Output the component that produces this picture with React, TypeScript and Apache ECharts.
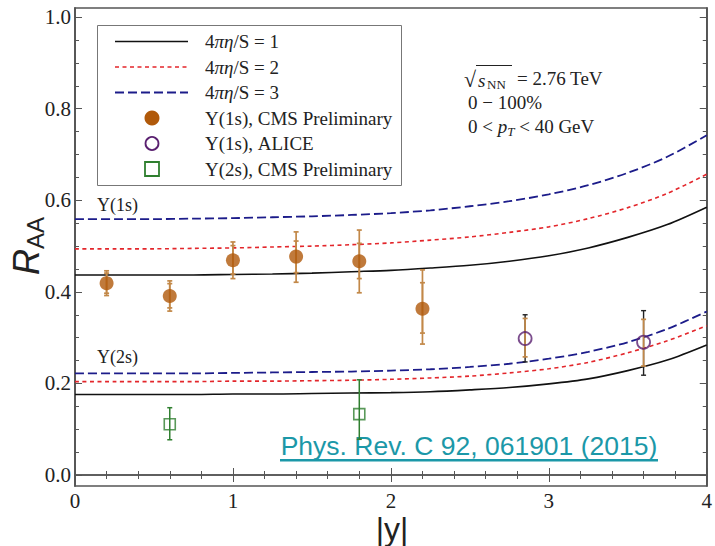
import React, { useEffect, useRef } from "react";
import * as echarts from "echarts";

// ---------- data ----------
const rapidity = [0, 0.25, 0.5, 0.75, 1, 1.25, 1.5, 1.75, 2, 2.25, 2.5, 2.75, 3, 3.25, 3.5, 3.75, 4];

// Υ(1s) theory curves
const u1sEta1 = [0.437, 0.437, 0.437, 0.437, 0.438, 0.439, 0.441, 0.444, 0.447, 0.452, 0.458, 0.467, 0.479, 0.496, 0.519, 0.547, 0.585];
const u1sEta2 = [0.494, 0.494, 0.494, 0.495, 0.496, 0.498, 0.5, 0.503, 0.507, 0.513, 0.52, 0.53, 0.542, 0.56, 0.584, 0.615, 0.657];
const u1sEta3 = [0.559, 0.559, 0.559, 0.56, 0.561, 0.563, 0.565, 0.568, 0.572, 0.578, 0.587, 0.598, 0.613, 0.633, 0.66, 0.695, 0.742];

// Υ(2s) theory curves
const u2sEta1 = [0.176, 0.176, 0.176, 0.176, 0.177, 0.177, 0.178, 0.179, 0.18, 0.182, 0.186, 0.191, 0.199, 0.21, 0.228, 0.251, 0.284];
const u2sEta2 = [0.204, 0.204, 0.204, 0.204, 0.205, 0.205, 0.206, 0.207, 0.209, 0.212, 0.216, 0.223, 0.232, 0.246, 0.267, 0.293, 0.326];
const u2sEta3 = [0.222, 0.222, 0.222, 0.222, 0.223, 0.224, 0.225, 0.226, 0.228, 0.231, 0.236, 0.243, 0.254, 0.269, 0.29, 0.319, 0.357];

// Υ(1s) CMS Preliminary
const cms1sY = [0.2, 0.6, 1.0, 1.4, 1.8, 2.2];
const cms1sRaa = [0.419, 0.391, 0.469, 0.477, 0.467, 0.363];
const cms1sStatLo = [0.397, 0.365, 0.439, 0.442, 0.429, 0.31];
const cms1sStatHi = [0.441, 0.418, 0.501, 0.511, 0.506, 0.42];
const cms1sTotLo = [0.392, 0.358, 0.429, 0.421, 0.398, 0.286];
const cms1sTotHi = [0.446, 0.424, 0.509, 0.531, 0.535, 0.448];

// Υ(1s) ALICE
const aliceY = [2.85, 3.6];
const aliceRaa = [0.298, 0.29];
const aliceStatLo = [0.258, 0.238];
const aliceStatHi = [0.342, 0.34];
const aliceTotLo = [0.247, 0.218];
const aliceTotHi = [0.35, 0.359];

// Υ(2s) CMS Preliminary
const cms2sY = [0.6, 1.8];
const cms2sRaa = [0.111, 0.133];
const cms2sLo = [0.077, 0.078];
const cms2sHi = [0.147, 0.208];

// axis ticks
const yTicks = [0, 0.2, 0.4, 0.6, 0.8, 1.0];
const yMinorTicks = [0.05, 0.1, 0.15, 0.25, 0.3, 0.35, 0.45, 0.5, 0.55, 0.65, 0.7, 0.75, 0.85, 0.9, 0.95];

const legendLabels = [
  "4πη/S = 1",
  "4πη/S = 2",
  "4πη/S = 3",
  "Υ(1s), CMS Preliminary",
  "Υ(1s), ALICE",
  "Υ(2s), CMS Preliminary",
];

// ---------- styles ----------
const SERIF = "'Liberation Serif', 'DejaVu Serif', serif";
const SANS = "'Liberation Sans', Arial, sans-serif";
const FRAME = "#555";
const C_BLACK = "#111111";
const C_RED = "#e3262b";
const C_BLUE = "#1c1c8a";
const C_ORANGE = "#b0590a";
const C_BAR = "#c28848";
const C_PURPLE = "#5a2070";
const C_GREEN = "#2f7f2f";
const C_TEAL = "#1b98a8";

const zip = (xs: number[], ys: number[]) => xs.map((x, i) => [x, ys[i]]);
const zip3 = (xs: number[], a: number[], b: number[]) => xs.map((x, i) => [x, a[i], b[i]]);

const errBar = (color: string, cap: number, width: number) => (params: any, api: any) => {
  const x = api.value(0);
  const lo = api.coord([x, api.value(1)]);
  const hi = api.coord([x, api.value(2)]);
  const style = { stroke: color, lineWidth: width };
  return {
    type: "group",
    children: [
      { type: "line", shape: { x1: lo[0], y1: lo[1], x2: hi[0], y2: hi[1] }, style },
      { type: "line", shape: { x1: lo[0] - cap, y1: lo[1], x2: lo[0] + cap, y2: lo[1] }, style },
      { type: "line", shape: { x1: hi[0] - cap, y1: hi[1], x2: hi[0] + cap, y2: hi[1] }, style },
    ],
  };
};

const theory = (name: string, data: number[], color: string, type: any, width: number) => ({
  name,
  type: "line",
  data: zip(rapidity, data),
  smooth: 0.3,
  symbol: "none",
  lineStyle: { color, type, width },
  z: 2,
  silent: true,
});

export default function App() {
  const ref = useRef<HTMLDivElement>(null);

  useEffect(() => {
    if (!ref.current) return;
    const chart = echarts.init(ref.current, undefined, { renderer: "svg" });

    const tickLine = { color: FRAME, width: 1 };
    const xAxisBase = {
      type: "value",
      min: 0,
      max: 4,
      interval: 1,
      axisLine: { show: true, lineStyle: { color: FRAME, width: 1.5 } },
      axisTick: { show: true, inside: true, length: 7, lineStyle: tickLine },
      minorTick: { show: true, splitNumber: 5, length: 4, lineStyle: tickLine },
      splitLine: { show: false },
      minorSplitLine: { show: false },
    };
    const yAxisBase = {
      type: "value",
      min: -0.024,
      max: 1.02,
      splitLine: { show: false },
      axisLine: { show: true, lineStyle: { color: FRAME, width: 1.5 } },
    };

    // legend rows
    const rowY = [41.5, 67, 92.5, 118, 143.5, 169];
    const lx1 = 115, lx2 = 188, mx = 152, tx = 205;
    const legendChildren: any[] = [
      { type: "rect", shape: { x: 97.5, y: 25.5, width: 304, height: 160 }, style: { fill: "#fff", stroke: "#777", lineWidth: 1 } },
      { type: "line", shape: { x1: lx1, y1: rowY[0], x2: lx2, y2: rowY[0] }, style: { stroke: C_BLACK, lineWidth: 1.6 } },
      { type: "line", shape: { x1: lx1, y1: rowY[1], x2: lx2, y2: rowY[1] }, style: { stroke: C_RED, lineWidth: 1.6, lineDash: [4, 3.5] } },
      { type: "line", shape: { x1: lx1, y1: rowY[2], x2: lx2, y2: rowY[2] }, style: { stroke: C_BLUE, lineWidth: 1.8, lineDash: [9, 4] } },
      { type: "circle", shape: { cx: mx, cy: rowY[3], r: 7.5 }, style: { fill: C_ORANGE } },
      { type: "circle", shape: { cx: mx, cy: rowY[4], r: 6.5 }, style: { fill: "none", stroke: C_PURPLE, lineWidth: 1.8 } },
      { type: "rect", shape: { x: mx - 7, y: rowY[5] - 7, width: 14, height: 14 }, style: { fill: "none", stroke: C_GREEN, lineWidth: 1.8 } },
    ];
    legendLabels.forEach((label, i) => {
      const txt = i < 3 ? label.replace("πη", "{i|πη}") : label;
      legendChildren.push({
        type: "text",
        x: tx,
        y: rowY[i],
        style: {
          text: txt,
          fontFamily: SERIF,
          fontSize: 19,
          fill: "#222",
          verticalAlign: "middle",
          align: "left",
          rich: { i: { fontStyle: "italic", fontFamily: SERIF, fontSize: 19, fill: "#222" } },
        },
      });
    });

    const option: any = {
      animation: false,
      backgroundColor: "#fff",
      grid: { left: 75, right: 6, top: 8, bottom: 60, show: true, borderColor: FRAME, borderWidth: 1.5, backgroundColor: "transparent" },
      xAxis: [
        {
          ...xAxisBase,
          position: "bottom",
          axisLabel: { fontFamily: SERIF, fontSize: 21, color: "#222", margin: 4 },
        },
        { ...xAxisBase, position: "top", axisLabel: { show: false } },
      ],
      yAxis: [
        {
          ...yAxisBase,
          position: "left",
          axisLabel: {
            customValues: yTicks,
            formatter: (v: number) => v.toFixed(1),
            fontFamily: SERIF,
            fontSize: 21,
            color: "#222",
            margin: 4,
          },
          axisTick: { show: true, inside: true, length: 7, customValues: yTicks, lineStyle: tickLine },
        },
        {
          ...yAxisBase,
          position: "left",
          axisLabel: { show: false },
          axisTick: { show: true, inside: true, length: 4, customValues: yMinorTicks, lineStyle: tickLine },
        },
        {
          ...yAxisBase,
          position: "right",
          axisLabel: { show: false },
          axisTick: { show: true, inside: true, length: 7, customValues: yTicks, lineStyle: tickLine },
        },
        {
          ...yAxisBase,
          position: "right",
          axisLabel: { show: false },
          axisTick: { show: true, inside: true, length: 4, customValues: yMinorTicks, lineStyle: tickLine },
        },
      ],
      series: [
        theory("4πη/S = 1, Υ(1s)", u1sEta1, C_BLACK, "solid", 1.6),
        theory("4πη/S = 2, Υ(1s)", u1sEta2, C_RED, [4, 3.5], 1.6),
        theory("4πη/S = 3, Υ(1s)", u1sEta3, C_BLUE, [9, 4], 1.8),
        theory("4πη/S = 1, Υ(2s)", u2sEta1, C_BLACK, "solid", 1.6),
        theory("4πη/S = 2, Υ(2s)", u2sEta2, C_RED, [4, 3.5], 1.6),
        theory("4πη/S = 3, Υ(2s)", u2sEta3, C_BLUE, [9, 4], 1.8),
        {
          name: "Υ(1s) CMS total error",
          type: "custom",
          renderItem: errBar(C_BAR, 2.5, 1.7),
          data: zip3(cms1sY, cms1sTotLo, cms1sTotHi),
          encode: { x: 0, y: [1, 2] },
          z: 3,
          silent: true,
        },
        {
          name: "Υ(1s) CMS stat error",
          type: "custom",
          renderItem: errBar(C_BAR, 2.5, 1.7),
          data: zip3(cms1sY, cms1sStatLo, cms1sStatHi),
          encode: { x: 0, y: [1, 2] },
          z: 3,
          silent: true,
        },
        {
          name: "Υ(1s) ALICE total error",
          type: "custom",
          renderItem: errBar("#222", 2.5, 1.4),
          data: zip3(aliceY, aliceTotLo, aliceTotHi),
          encode: { x: 0, y: [1, 2] },
          z: 3,
          silent: true,
        },
        {
          name: "Υ(1s) ALICE stat error",
          type: "custom",
          renderItem: errBar(C_BAR, 2.5, 1.7),
          data: zip3(aliceY, aliceStatLo, aliceStatHi),
          encode: { x: 0, y: [1, 2] },
          z: 4,
          silent: true,
        },
        {
          name: "Υ(2s) CMS error",
          type: "custom",
          renderItem: errBar(C_GREEN, 2.5, 1.5),
          data: zip3(cms2sY, cms2sLo, cms2sHi),
          encode: { x: 0, y: [1, 2] },
          z: 3,
          silent: true,
        },
        {
          name: "Υ(1s), CMS Preliminary",
          type: "scatter",
          data: zip(cms1sY, cms1sRaa),
          symbol: "circle",
          symbolSize: 14,
          itemStyle: { color: C_ORANGE },
          z: 5,
        },
        {
          name: "Υ(1s), ALICE",
          type: "scatter",
          data: zip(aliceY, aliceRaa),
          symbol: "circle",
          symbolSize: 13,
          itemStyle: { color: "rgba(0,0,0,0)", borderColor: C_PURPLE, borderWidth: 1.8 },
          z: 5,
        },
        {
          name: "Υ(2s), CMS Preliminary",
          type: "scatter",
          data: zip(cms2sY, cms2sRaa),
          symbol: "rect",
          symbolSize: 11,
          itemStyle: { color: "rgba(0,0,0,0)", borderColor: C_GREEN, borderWidth: 1.6 },
          z: 5,
        },
      ],
      graphic: [
        { type: "group", children: legendChildren, z: 10 },
        // annotation
        { type: "text", x: 464, y: 79, style: { text: "√", fontFamily: SERIF, fontSize: 22, fill: "#222", verticalAlign: "middle" } },
        { type: "line", shape: { x1: 476, y1: 65.5, x2: 512, y2: 65.5 }, style: { stroke: "#222", lineWidth: 1 } },
        { type: "text", x: 478, y: 80, style: { text: "s", fontFamily: SERIF, fontStyle: "italic", fontSize: 19, fill: "#222", verticalAlign: "middle" } },
        { type: "text", x: 487, y: 84, style: { text: "NN", fontFamily: SERIF, fontSize: 13, fill: "#222", verticalAlign: "middle" } },
        { type: "text", x: 517, y: 78, style: { text: "= 2.76 TeV", fontFamily: SERIF, fontSize: 19, fill: "#222", verticalAlign: "middle" } },
        { type: "text", x: 468, y: 102, style: { text: "0 − 100%", fontFamily: SERIF, fontSize: 19, fill: "#222", verticalAlign: "middle" } },
        {
          type: "text",
          x: 468,
          y: 126,
          style: {
            text: "{n|0 < }{it|p}{sub|T}{n| < 40 GeV}",
            fill: "#222",
            verticalAlign: "middle",
            rich: {
              n: { fontFamily: SERIF, fontSize: 19, lineHeight: 24, fill: "#222" },
              it: { fontFamily: SERIF, fontSize: 19, fontStyle: "italic", lineHeight: 24, fill: "#222" },
              sub: { fontFamily: SERIF, fontSize: 13, fontStyle: "italic", lineHeight: 13, verticalAlign: "bottom", fill: "#222" },
            },
          },
        },
        // curve labels
        { type: "text", x: 97, y: 205, style: { text: "Υ(1s)", fontFamily: SERIF, fontSize: 18, fill: "#222", verticalAlign: "middle" } },
        { type: "text", x: 97, y: 357, style: { text: "Υ(2s)", fontFamily: SERIF, fontSize: 18, fill: "#222", verticalAlign: "middle" } },
        // axis titles
        { type: "text", x: 26, y: 262, rotation: Math.PI / 2, style: { text: "R", fontFamily: SANS, fontStyle: "italic", fontSize: 36, fill: "#222", align: "center", verticalAlign: "middle" } },
        { type: "text", x: 35, y: 233, rotation: Math.PI / 2, style: { text: "AA", fontFamily: SANS, fontSize: 24, fill: "#222", align: "center", verticalAlign: "middle" } },
        { type: "text", x: 392, y: 529, style: { text: "|y|", fontFamily: SANS, fontSize: 32, fill: "#222", align: "center", verticalAlign: "middle" } },
        // citation
        { type: "text", x: 469, y: 446, style: { text: "Phys. Rev. C 92, 061901 (2015)", fontFamily: SANS, fontSize: 26.5, fill: C_TEAL, align: "center", verticalAlign: "middle" } },
        { type: "rect", shape: { x: 280, y: 459, width: 378, height: 2.5 }, style: { fill: C_TEAL } },
      ],
    };

    chart.setOption(option);
    return () => chart.dispose();
  }, []);

  return (
    <div
      ref={ref}
      style={{ position: "fixed", left: 0, top: 0, width: 715, height: 546, background: "#fff" }}
    />
  );
}
